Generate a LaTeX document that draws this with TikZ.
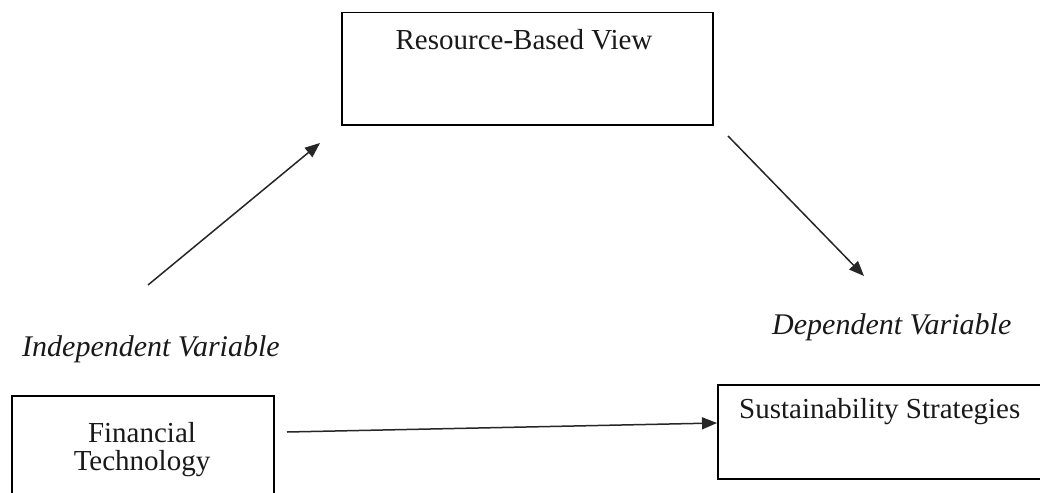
\documentclass[tikz,border=0pt]{standalone}
\usepackage{fontspec}
\setmainfont{Liberation Serif}
\usetikzlibrary{arrows.meta}
\tikzset{
  box/.style={draw=black, line width=1.5pt, inner sep=0pt},
  txt/.style={inner sep=0pt, font=\fontsize{29}{28}\selectfont, text=black!90},
  itxt/.style={txt, font=\fontsize{30}{28}\selectfont\itshape},
  link/.style={draw=black!85, line width=1.5pt,
    -{Triangle[length=15pt, width=12pt]}}
}
\begin{document}
\begin{tikzpicture}[x=1pt, y=-1pt]
  \clip (0,0) rectangle (1040,492);
  \fill[white] (0,0) rectangle (1040,492);

  % boxes
  \node[box, minimum width=371pt, minimum height=112pt, anchor=north west] (rbv) at (341,12) {};
  \node[box, minimum width=262pt, minimum height=150pt, anchor=north west] (fin) at (11,395) {};
  \node[box, minimum width=340pt, minimum height=94pt, anchor=north west] (sus) at (717,384) {};

  % box texts
  \node[txt, anchor=base] (rbvtxt) at (524,50) {Resource-Based View};
  \node[txt, anchor=north, align=center] (fintxt) at (142,422) {Financial\\Technology};
  \node[txt, anchor=base west] (sustxt) at (739,418) {Sustainability Strategies};

  % variable labels
  \node[itxt, anchor=base west] (indep) at (22,356) {Independent Variable};
  \node[itxt, anchor=base west] (dep) at (772,334) {Dependent Variable};

  % connector end points
  \coordinate (a1s) at (148,285);
  \coordinate (a1e) at (320,143);
  \coordinate (a2s) at (728,136);
  \coordinate (a2e) at (864,276);
  \coordinate (a3s) at (287,432);
  \coordinate (a3e) at (sus.west |- 0,423);

  \draw[link] (a1s) -- (a1e);
  \draw[link] (a2s) -- (a2e);
  \draw[link] (a3s) -- (a3e);
\end{tikzpicture}
\end{document}
